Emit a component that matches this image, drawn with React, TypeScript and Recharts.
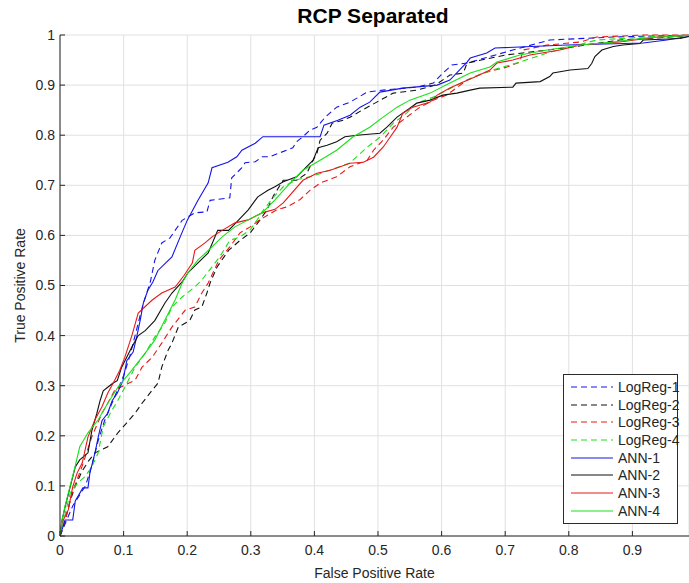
import React from 'react';
import { LineChart, Line, XAxis, YAxis, CartesianGrid, Legend } from 'recharts';

// axis ticks
const xTicks = [0, 0.1, 0.2, 0.3, 0.4, 0.5, 0.6, 0.7, 0.8, 0.9];
const yTicks = [0, 0.1, 0.2, 0.3, 0.4, 0.5, 0.6, 0.7, 0.8, 0.9, 1];

// ROC curves (FPR, TPR)
const logReg1Fpr = [0, 0.01, 0.02, 0.03, 0.04, 0.05, 0.06, 0.07, 0.08, 0.09, 0.1, 0.11, 0.12, 0.13, 0.142, 0.149, 0.16, 0.173, 0.181, 0.192, 0.212, 0.231, 0.236, 0.267, 0.27, 0.286, 0.291, 0.307, 0.318, 0.33, 0.346, 0.366, 0.372, 0.382, 0.393, 0.404, 0.417, 0.435, 0.456, 0.483, 0.508, 0.561, 0.587, 0.602, 0.616, 0.64, 0.712, 0.77, 0.87, 1];
const logReg1Tpr = [0, 0.03, 0.06, 0.08, 0.1, 0.14, 0.19, 0.23, 0.26, 0.29, 0.32, 0.36, 0.41, 0.46, 0.507, 0.55, 0.585, 0.595, 0.61, 0.63, 0.645, 0.647, 0.67, 0.675, 0.715, 0.735, 0.745, 0.747, 0.757, 0.757, 0.765, 0.775, 0.787, 0.797, 0.81, 0.816, 0.836, 0.856, 0.866, 0.886, 0.89, 0.896, 0.904, 0.924, 0.94, 0.944, 0.97, 0.99, 0.996, 1];

const logReg2Fpr = [0, 0.008, 0.016, 0.024, 0.035, 0.045, 0.055, 0.075, 0.091, 0.105, 0.118, 0.129, 0.145, 0.154, 0.16, 0.17, 0.176, 0.186, 0.204, 0.212, 0.223, 0.231, 0.236, 0.247, 0.265, 0.283, 0.299, 0.314, 0.325, 0.336, 0.351, 0.372, 0.388, 0.398, 0.404, 0.409, 0.42, 0.428, 0.445, 0.456, 0.475, 0.498, 0.524, 0.561, 0.59, 0.613, 0.634, 0.64, 0.7, 0.8, 0.88, 0.95, 1];
const logReg2Tpr = [0, 0.03, 0.07, 0.1, 0.13, 0.15, 0.166, 0.178, 0.206, 0.226, 0.245, 0.265, 0.291, 0.305, 0.337, 0.371, 0.385, 0.417, 0.43, 0.451, 0.457, 0.485, 0.505, 0.537, 0.57, 0.59, 0.605, 0.63, 0.65, 0.68, 0.71, 0.71, 0.724, 0.75, 0.764, 0.79, 0.804, 0.824, 0.83, 0.836, 0.85, 0.866, 0.884, 0.89, 0.9, 0.92, 0.924, 0.944, 0.96, 0.975, 0.99, 0.995, 1];

const logReg3Fpr = [0, 0.01, 0.019, 0.035, 0.05, 0.066, 0.075, 0.086, 0.1, 0.118, 0.129, 0.145, 0.16, 0.176, 0.197, 0.212, 0.223, 0.233, 0.25, 0.267, 0.283, 0.299, 0.314, 0.341, 0.357, 0.377, 0.393, 0.41, 0.435, 0.456, 0.483, 0.493, 0.508, 0.524, 0.545, 0.566, 0.587, 0.608, 0.64, 0.665, 0.703, 0.723, 0.728, 0.766, 0.818, 0.844, 0.92, 1];
const logReg3Tpr = [0, 0.04, 0.086, 0.14, 0.198, 0.245, 0.265, 0.291, 0.3, 0.311, 0.337, 0.357, 0.385, 0.417, 0.451, 0.457, 0.485, 0.505, 0.551, 0.577, 0.605, 0.617, 0.631, 0.651, 0.657, 0.671, 0.69, 0.705, 0.717, 0.737, 0.75, 0.77, 0.79, 0.816, 0.836, 0.856, 0.87, 0.88, 0.91, 0.924, 0.936, 0.946, 0.97, 0.98, 0.986, 0.996, 1, 1];

const logReg4Fpr = [0, 0.016, 0.028, 0.039, 0.05, 0.06, 0.068, 0.079, 0.091, 0.102, 0.118, 0.134, 0.149, 0.165, 0.176, 0.192, 0.212, 0.223, 0.251, 0.267, 0.283, 0.299, 0.31, 0.32, 0.336, 0.351, 0.372, 0.393, 0.413, 0.435, 0.456, 0.483, 0.503, 0.524, 0.545, 0.561, 0.587, 0.618, 0.65, 0.68, 0.723, 0.766, 0.844, 0.92, 1];
const logReg4Tpr = [0, 0.086, 0.106, 0.118, 0.138, 0.166, 0.218, 0.245, 0.271, 0.297, 0.337, 0.365, 0.397, 0.425, 0.457, 0.477, 0.497, 0.511, 0.557, 0.59, 0.597, 0.611, 0.631, 0.651, 0.677, 0.697, 0.711, 0.717, 0.725, 0.735, 0.745, 0.776, 0.796, 0.824, 0.844, 0.864, 0.876, 0.896, 0.916, 0.93, 0.946, 0.964, 0.99, 0.996, 1];

const ann1Fpr = [0, 0.008, 0.02, 0.024, 0.036, 0.044, 0.047, 0.055, 0.06, 0.066, 0.075, 0.082, 0.09, 0.099, 0.105, 0.115, 0.121, 0.126, 0.131, 0.138, 0.146, 0.154, 0.176, 0.189, 0.2, 0.217, 0.233, 0.239, 0.264, 0.278, 0.286, 0.307, 0.319, 0.409, 0.415, 0.437, 0.456, 0.472, 0.487, 0.503, 0.539, 0.593, 0.613, 0.64, 0.645, 0.671, 0.684, 0.797, 0.917, 0.954, 1];
const ann1Tpr = [0, 0.032, 0.032, 0.07, 0.096, 0.096, 0.126, 0.166, 0.197, 0.23, 0.245, 0.27, 0.285, 0.31, 0.35, 0.367, 0.4, 0.43, 0.465, 0.49, 0.507, 0.53, 0.557, 0.597, 0.63, 0.67, 0.705, 0.735, 0.746, 0.757, 0.77, 0.784, 0.797, 0.797, 0.82, 0.83, 0.84, 0.856, 0.866, 0.886, 0.894, 0.9, 0.91, 0.946, 0.954, 0.964, 0.974, 0.98, 0.984, 0.99, 1];

const ann2Fpr = [0, 0.003, 0.008, 0.016, 0.024, 0.031, 0.044, 0.05, 0.058, 0.063, 0.068, 0.075, 0.083, 0.09, 0.097, 0.113, 0.123, 0.134, 0.149, 0.165, 0.176, 0.192, 0.201, 0.217, 0.233, 0.248, 0.265, 0.278, 0.296, 0.311, 0.327, 0.338, 0.351, 0.372, 0.382, 0.398, 0.406, 0.42, 0.435, 0.448, 0.467, 0.503, 0.514, 0.53, 0.55, 0.561, 0.582, 0.602, 0.624, 0.645, 0.66, 0.712, 0.717, 0.755, 0.77, 0.775, 0.802, 0.83, 0.836, 0.841, 0.852, 0.87, 0.885, 0.912, 0.917, 0.975, 1];
const ann2Tpr = [0, 0.03, 0.058, 0.098, 0.138, 0.152, 0.166, 0.21, 0.245, 0.27, 0.29, 0.297, 0.305, 0.31, 0.337, 0.377, 0.4, 0.41, 0.43, 0.465, 0.485, 0.507, 0.525, 0.545, 0.565, 0.61, 0.61, 0.627, 0.651, 0.677, 0.69, 0.697, 0.707, 0.717, 0.73, 0.75, 0.775, 0.78, 0.787, 0.797, 0.8, 0.804, 0.816, 0.836, 0.854, 0.864, 0.87, 0.88, 0.884, 0.89, 0.894, 0.896, 0.904, 0.907, 0.917, 0.924, 0.93, 0.933, 0.943, 0.957, 0.97, 0.977, 0.98, 0.983, 0.99, 0.993, 1];

const ann3Fpr = [0, 0.003, 0.013, 0.02, 0.027, 0.035, 0.044, 0.055, 0.066, 0.075, 0.086, 0.094, 0.102, 0.113, 0.123, 0.145, 0.16, 0.181, 0.195, 0.208, 0.212, 0.228, 0.239, 0.255, 0.275, 0.296, 0.318, 0.338, 0.351, 0.382, 0.404, 0.425, 0.456, 0.477, 0.493, 0.508, 0.519, 0.53, 0.539, 0.555, 0.582, 0.593, 0.613, 0.634, 0.656, 0.676, 0.687, 0.712, 0.739, 0.786, 0.818, 0.88, 0.939, 1];
const ann3Tpr = [0, 0.026, 0.052, 0.098, 0.126, 0.146, 0.198, 0.232, 0.258, 0.285, 0.311, 0.331, 0.357, 0.4, 0.445, 0.471, 0.485, 0.497, 0.52, 0.545, 0.57, 0.585, 0.597, 0.61, 0.625, 0.631, 0.645, 0.652, 0.665, 0.71, 0.724, 0.73, 0.744, 0.746, 0.756, 0.776, 0.796, 0.816, 0.844, 0.856, 0.866, 0.88, 0.894, 0.906, 0.918, 0.93, 0.944, 0.95, 0.96, 0.97, 0.98, 0.986, 0.996, 1];

const ann4Fpr = [0, 0.003, 0.008, 0.016, 0.024, 0.031, 0.044, 0.06, 0.075, 0.091, 0.113, 0.134, 0.149, 0.165, 0.181, 0.192, 0.201, 0.217, 0.239, 0.255, 0.275, 0.296, 0.318, 0.338, 0.362, 0.382, 0.409, 0.435, 0.461, 0.487, 0.508, 0.53, 0.55, 0.582, 0.613, 0.645, 0.676, 0.687, 0.723, 0.766, 0.818, 0.87, 0.92, 1];
const ann4Tpr = [0, 0.03, 0.06, 0.1, 0.14, 0.178, 0.206, 0.232, 0.265, 0.297, 0.331, 0.365, 0.391, 0.431, 0.471, 0.505, 0.525, 0.551, 0.577, 0.597, 0.617, 0.631, 0.645, 0.671, 0.705, 0.73, 0.75, 0.77, 0.797, 0.816, 0.836, 0.856, 0.87, 0.884, 0.904, 0.924, 0.936, 0.946, 0.96, 0.97, 0.98, 0.986, 0.994, 1];

const BLUE = '#1414e8';
const BLACK = '#111111';
const RED = '#e81818';
const GREEN = '#18e018';
const AXIS = '#262626';
const FONT = '"Liberation Sans", Arial, Helvetica, sans-serif';

const toPoints = (fpr: number[], tpr: number[]) => fpr.map((x, i) => ({ x, y: tpr[i] }));

const series = [
  { name: 'LogReg-1', color: BLUE, dashed: true, data: toPoints(logReg1Fpr, logReg1Tpr) },
  { name: 'LogReg-2', color: BLACK, dashed: true, data: toPoints(logReg2Fpr, logReg2Tpr) },
  { name: 'LogReg-3', color: RED, dashed: true, data: toPoints(logReg3Fpr, logReg3Tpr) },
  { name: 'LogReg-4', color: GREEN, dashed: true, data: toPoints(logReg4Fpr, logReg4Tpr) },
  { name: 'ANN-1', color: BLUE, dashed: false, data: toPoints(ann1Fpr, ann1Tpr) },
  { name: 'ANN-2', color: BLACK, dashed: false, data: toPoints(ann2Fpr, ann2Tpr) },
  { name: 'ANN-3', color: RED, dashed: false, data: toPoints(ann3Fpr, ann3Tpr) },
  { name: 'ANN-4', color: GREEN, dashed: false, data: toPoints(ann4Fpr, ann4Tpr) },
];

function LegendBox() {
  return (
    <div
      style={{
        width: 113,
        border: '1px solid #2b2b2b',
        background: '#fff',
        padding: '3px 0',
        fontFamily: FONT,
        fontSize: 14,
        color: AXIS,
        whiteSpace: 'nowrap',
        boxSizing: 'content-box',
      }}
    >
      {series.map((s) => (
        <div key={s.name} style={{ display: 'flex', alignItems: 'center', height: 17.7 }}>
          <svg width={54} height={10} style={{ flex: 'none' }}>
            <line
              x1={7}
              x2={49}
              y1={5}
              y2={5}
              stroke={s.color}
              strokeWidth={1}
              strokeDasharray={s.dashed ? '6 4' : undefined}
            />
          </svg>
          <span>{s.name}</span>
        </div>
      ))}
    </div>
  );
}

export default function App() {
  return (
    <div style={{ position: 'absolute', left: 0, top: 0, width: 689, height: 583, background: '#fff', fontFamily: FONT }}>
      <div
        style={{
          position: 'absolute',
          top: 4,
          left: 0,
          width: 746,
          textAlign: 'center',
          fontWeight: 'bold',
          fontSize: 21,
          color: '#000',
        }}
      >
        RCP Separated
      </div>
      <LineChart width={689} height={583} margin={{ top: 35, right: 0, bottom: 0, left: 0 }}>
        <CartesianGrid stroke="#e0e0e0" strokeWidth={1} />
        <XAxis
          dataKey="x"
          type="number"
          domain={[0, 0.989]}
          allowDataOverflow
          ticks={xTicks}
          height={47}
          stroke={AXIS}
          tickSize={-5}
          tickMargin={14}
          tick={{ fill: AXIS, fontSize: 14 }}
          label={{ value: 'False Positive Rate', position: 'insideBottom', offset: 5, fill: AXIS, fontSize: 14 }}
        />
        <YAxis
          dataKey="y"
          type="number"
          domain={[0, 1]}
          ticks={yTicks}
          width={60}
          stroke={AXIS}
          tickSize={-5}
          tickMargin={10}
          tick={{ fill: AXIS, fontSize: 14 }}
          label={{
            value: 'True Positive Rate',
            angle: -90,
            position: 'insideLeft',
            offset: 20,
            fill: AXIS,
            fontSize: 14,
            style: { textAnchor: 'middle' },
          }}
        />
        <Legend
          layout="vertical"
          align="center"
          verticalAlign="middle"
          content={() => <LegendBox />}
          wrapperStyle={{ left: 563, top: 374, width: 115 }}
        />
        {series.map((s) => (
          <Line
            key={s.name}
            data={s.data}
            dataKey="y"
            name={s.name}
            type="linear"
            stroke={s.color}
            strokeWidth={1.1}
            strokeDasharray={s.dashed ? '6 4' : undefined}
            dot={false}
            activeDot={false}
            isAnimationActive={false}
          />
        ))}
      </LineChart>
    </div>
  );
}
